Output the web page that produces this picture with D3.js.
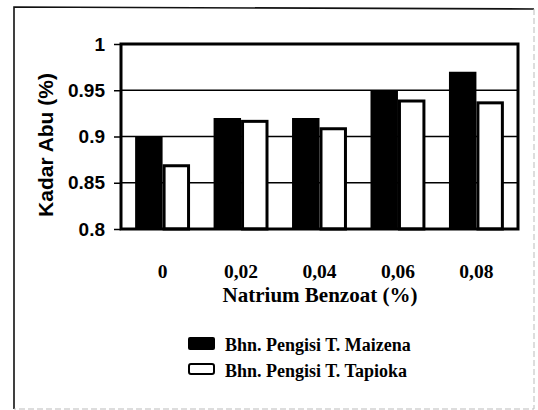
<!DOCTYPE html>
<html>
<head>
<meta charset="utf-8">
<script src="https://cdn.jsdelivr.net/npm/d3@7"></script>
<style>
  body { margin: 0; background: #fff; }
  svg { display: block; }
</style>
</head>
<body>
<div id="chart"></div>
<script>
`use strict`;

// data
const categories = [`0`, `0,02`, `0,04`, `0,06`, `0,08`];
const seriesNames = [`Bhn. Pengisi T. Maizena`, `Bhn. Pengisi T. Tapioka`];
const maizena = [0.90, 0.92, 0.92, 0.95, 0.97];
const tapioka = [0.87, 0.918, 0.91, 0.94, 0.938];
const yTicks = [0.8, 0.85, 0.9, 0.95, 1];
const yTickLabels = [`0.8`, `0.85`, `0.9`, `0.95`, `1`];

(function () {

  const W = 538, H = 410;
  const plot = {left: 121, right: 518, top: 44, bottom: 229};
  const serif = `"Liberation Serif", "Times New Roman", "DejaVu Serif", serif`;
  const sans = `"Liberation Sans", Arial, sans-serif`;

  const svg = d3.select(`#chart`).append(`svg`)
    .attr(`width`, W)
    .attr(`height`, H);

  // outer frame of the pasted figure
  svg.append(`path`)
    .attr(`d`, `M14,409 L14,7 L534,9`)
    .attr(`fill`, `none`)
    .attr(`stroke`, `#111`)
    .style(`stroke-width`, 1.6);

  svg.append(`path`)
    .attr(`d`, `M534,9 L534,409 L14,409`)
    .attr(`fill`, `none`)
    .attr(`stroke`, `#bbb`)
    .attr(`stroke-dasharray`, `6,3`)
    .style(`stroke-width`, 1);

  let x0 = d3.scaleBand()
    .domain(categories)
    .range([plot.left, plot.right])
    .paddingInner(0.3)
    .paddingOuter(0.18);

  let x1 = d3.scaleBand()
    .domain([0, 1])
    .range([0, x0.bandwidth()]);

  let y = d3.scaleLinear()
    .domain([0.8, 1])
    .range([plot.bottom, plot.top]);

  // gridlines
  svg.append(`g`).selectAll(`line`).data(yTicks.slice(1, -1))
    .enter()
    .append(`line`)
    .attr(`x1`, plot.left)
    .attr(`x2`, plot.right)
    .attr(`y1`, d => y(d))
    .attr(`y2`, d => y(d))
    .attr(`stroke`, `#000`)
    .style(`stroke-width`, 1.6);

  let rows = categories.map((c, i) => ({cat: c, vals: [maizena[i], tapioka[i]]}));

  let groups = svg.append(`g`).selectAll(`g`).data(rows)
    .enter()
    .append(`g`)
    .attr(`transform`, d => `translate(${x0(d.cat)},0)`);

  groups.selectAll(`rect`).data(d => d.vals.map((v, k) => ({v: v, k: k})))
    .enter()
    .append(`rect`)
    .attr(`x`, d => x1(d.k) + (d.k === 1 ? 1.5 : 0))
    .attr(`y`, d => y(d.v) + (d.k === 1 ? 1.5 : 0))
    .attr(`width`, d => x1.bandwidth() - (d.k === 1 ? 3 : 0))
    .attr(`height`, d => plot.bottom - y(d.v) - (d.k === 1 ? 1.5 : 0))
    .attr(`fill`, d => d.k === 0 ? `#000` : `#fff`)
    .attr(`stroke`, d => d.k === 1 ? `#000` : `none`)
    .style(`stroke-width`, 3);

  // plot frame
  svg.append(`rect`)
    .attr(`x`, plot.left)
    .attr(`y`, plot.top)
    .attr(`width`, plot.right - plot.left)
    .attr(`height`, plot.bottom - plot.top)
    .attr(`fill`, `none`)
    .attr(`stroke`, `#000`)
    .style(`stroke-width`, 3);

  // y axis
  let yAxis = d3.axisLeft(y)
    .tickValues(yTicks)
    .tickFormat((d, i) => yTickLabels[i])
    .tickSize(7)
    .tickPadding(9);

  let ya = svg.append(`g`)
    .attr(`transform`, `translate(${plot.left},0)`)
    .call(yAxis);

  ya.select(`.domain`).remove();
  ya.selectAll(`line`).attr(`stroke`, `#000`).style(`stroke-width`, 1.5);
  ya.selectAll(`text`)
    .attr(`font-family`, sans)
    .attr(`font-weight`, `bold`)
    .attr(`font-size`, 19)
    .attr(`fill`, `#000`);

  svg.append(`text`)
    .attr(`transform`, `translate(53,145) rotate(-90)`)
    .attr(`text-anchor`, `middle`)
    .attr(`font-family`, sans)
    .attr(`font-weight`, `bold`)
    .attr(`font-size`, 21)
    .text(`Kadar Abu (%)`);

  // x labels
  svg.append(`g`).selectAll(`text`).data(categories)
    .enter()
    .append(`text`)
    .attr(`x`, d => x0(d) + x0.bandwidth() / 2)
    .attr(`y`, 278)
    .attr(`text-anchor`, `middle`)
    .attr(`font-family`, serif)
    .attr(`font-weight`, `bold`)
    .attr(`font-size`, 19.5)
    .text(d => d);

  svg.append(`text`)
    .attr(`x`, 320)
    .attr(`y`, 302)
    .attr(`text-anchor`, `middle`)
    .attr(`font-family`, serif)
    .attr(`font-weight`, `bold`)
    .attr(`font-size`, 21)
    .text(`Natrium Benzoat (%)`);

  // legend
  let leg = svg.append(`g`).selectAll(`g`).data(seriesNames)
    .enter()
    .append(`g`)
    .attr(`transform`, (d, i) => `translate(188,${337 + i * 26})`);

  leg.append(`rect`)
    .attr(`x`, (d, i) => i ? 1 : 0)
    .attr(`y`, (d, i) => i ? 1 : 0)
    .attr(`width`, (d, i) => i ? 25 : 27)
    .attr(`height`, (d, i) => i ? 10 : 13)
    .attr(`rx`, 2)
    .attr(`fill`, (d, i) => i ? `#fff` : `#000`)
    .attr(`stroke`, `#000`)
    .style(`stroke-width`, (d, i) => i ? 2 : 0);

  leg.append(`text`)
    .attr(`x`, 37)
    .attr(`y`, 14)
    .attr(`font-family`, serif)
    .attr(`font-weight`, `bold`)
    .attr(`font-size`, 18)
    .text(d => d);
})();
</script>
</body>
</html>
